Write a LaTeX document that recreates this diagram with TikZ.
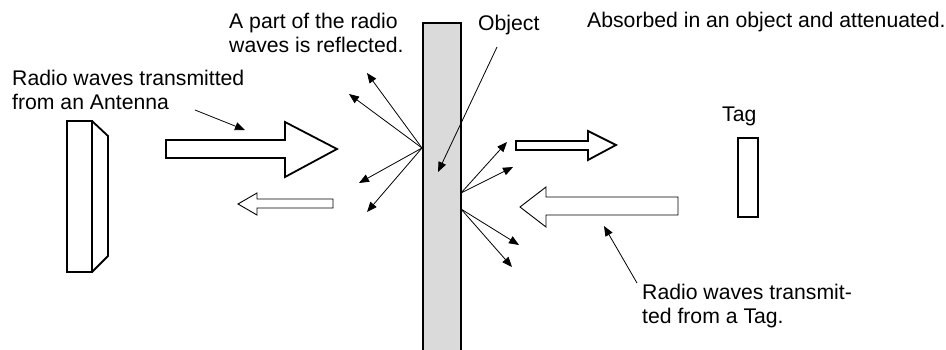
\documentclass[tikz,border=0pt]{standalone}
\usepackage{fontspec}
\setmainfont{Liberation Sans}
\usetikzlibrary{arrows.meta}
\tikzset{
	lbl/.style={align=left,inner sep=0pt,anchor=base west,font=\fontsize{21.2}{24}\selectfont},
	ray/.style={-{Triangle[length=10pt,width=8pt]},line width=0.8pt},
	thickblock/.style={draw,line width=1.8pt,fill=white},
	thinblock/.style={draw,line width=0.9pt,fill=white},
}
\definecolor{objgray}{RGB}{218,218,218}

\begin{document}
\begin{tikzpicture}[x=1pt,y=-1pt]
	\useasboundingbox (0,0) rectangle (946,349);
	\node[lbl] (anttext) at (12,109) {Radio waves transmitted\\from an Antenna};
	\node[lbl] (refltext) at (229,52) {A part of the radio\\waves is reflected.};
	\node[lbl] (objtext) at (478,30) {Object};
	\node[lbl] (abstext) at (587,27) {Absorbed in an object and attenuated.};
	\node[lbl] (tagname) at (722,121) {Tag};
	\node[lbl] (tagtext) at (642,323) {Radio waves transmit-\\ted from a Tag.};
	\draw[line width=1.8pt,fill=objgray] (423,23) rectangle (461,360);
	\draw[line width=1.8pt] (67,121) rectangle (92,272);
	\draw[line width=1.8pt] (92,121) -- (108,136) -- (108,256) -- (92,272);
	\draw[line width=1.8pt] (738,138) rectangle (758,217);
	\draw[thickblock] (166,140) -- (285,140) -- (285,122) -- (337,149) -- (285,177) -- (285,158) -- (166,158) -- cycle;
	\draw[thinblock] (333,199) -- (257,199) -- (257,193) -- (238,204) -- (257,215) -- (257,208) -- (333,208) -- cycle;
	\draw[thickblock] (516,141) -- (588,141) -- (588,131) -- (616,145) -- (588,160) -- (588,150) -- (516,150) -- cycle;
	\draw[thinblock] (678,197) -- (546,197) -- (546,187) -- (520,207) -- (546,227) -- (546,215) -- (678,215) -- cycle;
	\coordinate (hitleft) at (422,148);
	\coordinate (outtop) at (461,193);
	\coordinate (outbot) at (461,209);
	\coordinate (antfrom) at (195,110);
	\coordinate (antto) at (245,130);
	\coordinate (objfrom) at (497,47);
	\coordinate (objto) at (438,172);
	\coordinate (tagfrom) at (637,283);
	\coordinate (tagto) at (604,226);
	\draw[ray] (hitleft) -- (367,73);
	\draw[ray] (hitleft) -- (349,94);
	\draw[ray] (hitleft) -- (359,183);
	\draw[ray] (hitleft) -- (367,212);
	\draw[ray] (outtop) -- (507,142);
	\draw[ray] (outtop) -- (513,167);
	\draw[ray] (outbot) -- (519,245);
	\draw[ray] (outbot) -- (512,267);
	\draw[ray] (antfrom) -- (antto);
	\draw[ray] (objfrom) -- (objto);
	\draw[ray] (tagfrom) -- (tagto);
\end{tikzpicture}
\end{document}
